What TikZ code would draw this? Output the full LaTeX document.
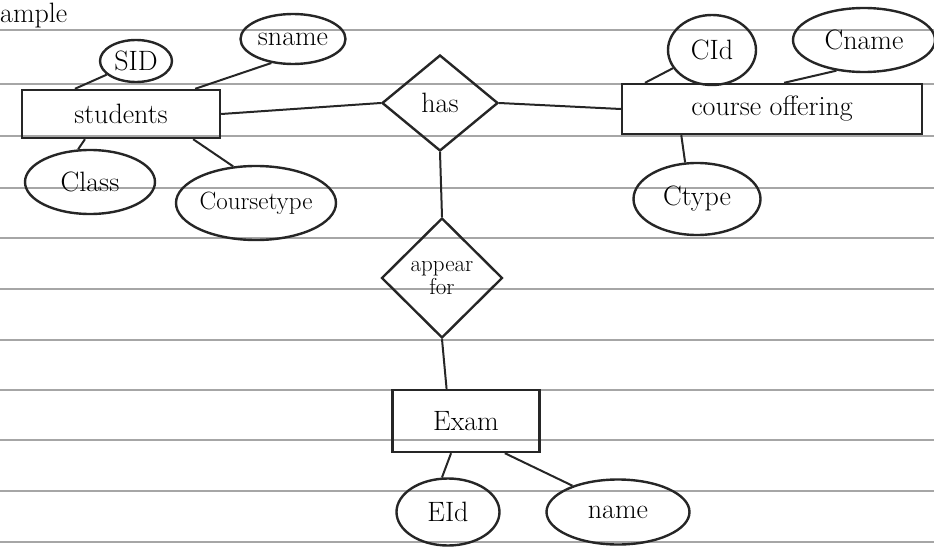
\documentclass[tikz,border=0pt]{standalone}
\usetikzlibrary{shapes.geometric,calc}
\begin{document}
\begin{tikzpicture}[x=1pt,y=-1pt,
  ink/.style={line width=2.4pt,draw=black!85},
  lbl/.style={font=\fontsize{28}{30}\selectfont},
  ent/.style={ink,lbl,rectangle,inner sep=0pt},
  att/.style={ink,lbl,ellipse,inner sep=0pt},
  rel/.style={ink,lbl,diamond,inner sep=0pt,align=center},
  conn/.style={ink,line width=2pt},
  rule/.style={draw=black!35,line width=1.2pt}]
\useasboundingbox (0,0) rectangle (934,551);
% ruled paper lines
\foreach \yy in {30,84,136,188,238,289,340,390,440,491,542}
  \draw[rule] (0,\yy) -- (934,\yy);
% title fragment
\node[lbl,anchor=west,inner sep=0pt] (title) at (0,16) {ample};
% entities
\node[ent,minimum width=198pt,minimum height=48pt] (stud) at (121,114) {students};
\node[ent,minimum width=300pt,minimum height=50pt] (course) at (772,109) {course offering};
\node[ent,minimum width=147pt,minimum height=62pt] (exam) at (466,421) {Exam};
% relationships
\node[rel,minimum width=116pt,minimum height=96pt] (has) at (440,103) {has};
\node[rel,minimum width=121pt,minimum height=120pt,font=\fontsize{23}{23}\selectfont] (appear) at (442,278) {appear\\for};
% attributes
\node[att,minimum width=72pt,minimum height=42pt] (sid) at (136,61) {SID};
\node[att,minimum width=105pt,minimum height=50pt] (sname) at (293,39) {sname};
\node[att,minimum width=130pt,minimum height=64pt] (class) at (90,182) {Class};
\node[att,minimum width=160pt,minimum height=74pt,font=\fontsize{25}{27}\selectfont] (ctypest) at (256,203) {Coursetype};
\node[att,minimum width=88pt,minimum height=70pt] (cid) at (712,50) {CId};
\node[att,minimum width=142pt,minimum height=64pt] (cname) at (864,40) {Cname};
\node[att,minimum width=127pt,minimum height=72pt] (ctype) at (697,199) {Ctype};
\node[att,minimum width=103pt,minimum height=67pt] (eid) at (448,512) {EId};
\node[att,minimum width=143pt,minimum height=65pt] (ename) at (618,512) {name};
% connectors
\draw[conn] ($(stud.north west)!0.27!(stud.north east)$) -- (sid.205);
\draw[conn] ($(stud.north west)!0.87!(stud.north east)$) -- (sname.228);
\draw[conn] ($(stud.south west)!0.32!(stud.south east)$) -- (class.110);
\draw[conn] ($(stud.south west)!0.86!(stud.south east)$) -- (ctypest.122);
\draw[conn] (stud.east) -- (has.west);
\draw[conn] (has.east) -- (course.west);
\draw[conn] ($(course.north west)!0.08!(course.north east)$) -- (cid.205);
\draw[conn] ($(course.north west)!0.54!(course.north east)$) -- (cname.228);
\draw[conn] ($(course.south west)!0.2!(course.south east)$) -- (ctype.108);
\draw[conn] (has.south) -- (appear.north);
\draw[conn] (appear.south) -- ($(exam.north west)!0.37!(exam.north east)$);
\draw[conn] ($(exam.south west)!0.4!(exam.south east)$) -- (eid.100);
\draw[conn] ($(exam.south west)!0.76!(exam.south east)$) -- (ename.150);
\end{tikzpicture}
\end{document}
